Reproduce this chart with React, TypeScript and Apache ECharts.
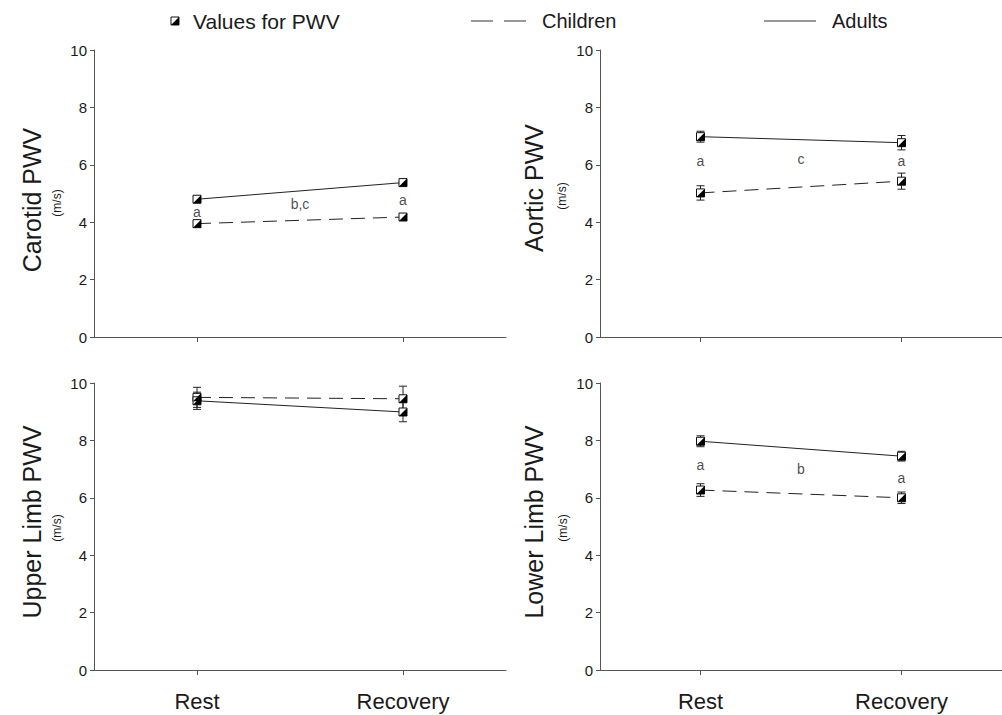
import React, { useEffect, useRef } from "react";
import * as echarts from "echarts";

// ---- data ----
const phases = ["Rest", "Recovery"];
const panelTitles = ["Carotid PWV", "Aortic PWV", "Upper Limb PWV", "Lower Limb PWV"];
const unitLabel = "(m/s)";
const legendLabels = ["Values for PWV", "Children", "Adults"];

const carotidChildren = [3.95, 4.18];
const carotidChildrenErr = [0.06, 0.06];
const carotidAdults = [4.8, 5.38];
const carotidAdultsErr = [0.05, 0.06];

const aorticChildren = [5.02, 5.43];
const aorticChildrenErr = [0.25, 0.28];
const aorticAdults = [6.98, 6.77];
const aorticAdultsErr = [0.19, 0.25];

const upperChildren = [9.5, 9.45];
const upperChildrenErr = [0.35, 0.44];
const upperAdults = [9.38, 8.99];
const upperAdultsErr = [0.3, 0.34];

const lowerChildren = [6.27, 6.0];
const lowerChildrenErr = [0.22, 0.2];
const lowerAdults = [7.97, 7.45];
const lowerAdultsErr = [0.19, 0.17];

// annotations: position 0 = Rest, 0.5 = between, 1 = Recovery
const carotidNotes = [
  { at: 0, y: 4.36, text: "a" },
  { at: 0.5, y: 4.63, text: "b,c" },
  { at: 1, y: 4.77, text: "a" },
];
const aorticNotes = [
  { at: 0, y: 6.13, text: "a" },
  { at: 0.5, y: 6.2, text: "c" },
  { at: 1, y: 6.13, text: "a" },
];
const upperNotes: { at: number; y: number; text: string }[] = [];
const lowerNotes = [
  { at: 0, y: 7.14, text: "a" },
  { at: 0.5, y: 7.0, text: "b" },
  { at: 1, y: 6.69, text: "a" },
];

const panels = [
  { children: carotidChildren, childrenErr: carotidChildrenErr, adults: carotidAdults, adultsErr: carotidAdultsErr, notes: carotidNotes },
  { children: aorticChildren, childrenErr: aorticChildrenErr, adults: aorticAdults, adultsErr: aorticAdultsErr, notes: aorticNotes },
  { children: upperChildren, childrenErr: upperChildrenErr, adults: upperAdults, adultsErr: upperAdultsErr, notes: upperNotes },
  { children: lowerChildren, childrenErr: lowerChildrenErr, adults: lowerAdults, adultsErr: lowerAdultsErr, notes: lowerNotes },
];

// ---- layout ----
const FONT = "Liberation Sans, Arial, Helvetica, sans-serif";
const INK = "#1a1a1a";
const AXIS = "#555";
const grids = [
  { left: 94, top: 50, width: 412, height: 287 },
  { left: 600, top: 50, width: 412, height: 287 },
  { left: 94, top: 383, width: 412, height: 287 },
  { left: 600, top: 383, width: 412, height: 287 },
];
const titlePos = [
  { tx: 32, ty: 200, ux: 57, uy: 203 },
  { tx: 534, ty: 188, ux: 562, uy: 196 },
  { tx: 32, ty: 522, ux: 57, uy: 528 },
  { tx: 534, ty: 522, ux: 563, uy: 528 },
];

const phaseX = (i: number) => 2 * i + 1; // Rest -> 1, Recovery -> 3 on a 0..4 axis
const noteX = (at: number) => 1 + at * 2;

const MARK = "path://M8,0 L8,8 L0,8 Z";

function buildOption() {
  const xAxis: any[] = [];
  const yAxis: any[] = [];
  const series: any[] = [];
  const graphic: any[] = [];

  panels.forEach((p, k) => {
    const bottom = k >= 2;
    xAxis.push({
      gridIndex: k,
      type: "value",
      min: 0,
      max: 4,
      splitLine: { show: false },
      axisLine: { show: true, onZero: false, lineStyle: { color: AXIS, width: 1 } },
      axisTick: { show: true, customValues: [1, 3], length: 5, lineStyle: { color: AXIS } },
      axisLabel: {
        show: bottom,
        customValues: [1, 3],
        formatter: (v: number) => phases[Math.round((v - 1) / 2)] ?? "",
        fontSize: 22,
        fontFamily: FONT,
        color: INK,
        margin: 20,
      },
    });
    yAxis.push({
      gridIndex: k,
      type: "value",
      min: 0,
      max: 10,
      interval: 2,
      splitLine: { show: false },
      axisLine: { show: true, lineStyle: { color: AXIS, width: 1 } },
      axisTick: { show: true, length: 4, lineStyle: { color: AXIS } },
      axisLabel: { fontSize: 15, fontFamily: FONT, color: INK, margin: 7 },
    });

    const childPts = p.children.map((v, i) => [phaseX(i), v]);
    const adultPts = p.adults.map((v, i) => [phaseX(i), v]);

    series.push({
      type: "line",
      xAxisIndex: k,
      yAxisIndex: k,
      data: childPts,
      symbol: "none",
      lineStyle: { color: "#222", width: 1, type: [14, 8] },
      z: 2,
    });
    series.push({
      type: "line",
      xAxisIndex: k,
      yAxisIndex: k,
      data: adultPts,
      symbol: "none",
      lineStyle: { color: "#222", width: 1, type: "solid" },
      z: 2,
    });

    const errData = [
      ...p.children.map((v, i) => [phaseX(i), v - p.childrenErr[i], v + p.childrenErr[i]]),
      ...p.adults.map((v, i) => [phaseX(i), v - p.adultsErr[i], v + p.adultsErr[i]]),
    ];
    series.push({
      type: "custom",
      xAxisIndex: k,
      yAxisIndex: k,
      data: errData,
      encode: { x: 0, y: [1, 2] },
      z: 3,
      renderItem: (params: any, api: any) => {
        const x = api.value(0);
        const lo = api.coord([x, api.value(1)]);
        const hi = api.coord([x, api.value(2)]);
        const w = 4;
        const style = { stroke: "#222", lineWidth: 1, fill: "none" };
        return {
          type: "group",
          children: [
            { type: "line", shape: { x1: lo[0], y1: lo[1], x2: hi[0], y2: hi[1] }, style },
            { type: "line", shape: { x1: lo[0] - w, y1: lo[1], x2: lo[0] + w, y2: lo[1] }, style },
            { type: "line", shape: { x1: hi[0] - w, y1: hi[1], x2: hi[0] + w, y2: hi[1] }, style },
          ],
        };
      },
    });

    const allPts = [...childPts, ...adultPts];
    series.push({
      type: "scatter",
      xAxisIndex: k,
      yAxisIndex: k,
      data: allPts,
      symbol: "rect",
      symbolSize: 8,
      itemStyle: { color: "#fff", borderColor: "#111", borderWidth: 1, opacity: 1 },
      z: 4,
    });
    series.push({
      type: "scatter",
      xAxisIndex: k,
      yAxisIndex: k,
      data: allPts,
      symbol: MARK,
      symbolSize: 8,
      itemStyle: { color: "#000", opacity: 1 },
      z: 5,
    });

    if (p.notes.length) {
      series.push({
        type: "scatter",
        xAxisIndex: k,
        yAxisIndex: k,
        data: p.notes.map((n) => ({ value: [noteX(n.at), n.y], name: n.text })),
        symbolSize: 1,
        itemStyle: { color: "rgba(0,0,0,0)" },
        label: {
          show: true,
          position: "inside",
          formatter: "{b}",
          fontSize: 14,
          fontFamily: FONT,
          color: INK,
        },
        z: 6,
      });
    }

    const tp = titlePos[k];
    graphic.push({
      type: "text",
      x: tp.tx,
      y: tp.ty,
      rotation: Math.PI / 2,
      style: {
        text: panelTitles[k],
        fontSize: 25,
        fontFamily: FONT,
        fill: INK,
        textAlign: "center",
        verticalAlign: "middle",
      },
    });
    graphic.push({
      type: "text",
      x: tp.ux,
      y: tp.uy,
      rotation: Math.PI / 2,
      style: {
        text: unitLabel,
        fontSize: 12,
        fontFamily: FONT,
        fill: INK,
        textAlign: "center",
        verticalAlign: "middle",
      },
    });
  });

  // legend
  const ly = 21;
  graphic.push({
    type: "rect",
    shape: { x: 171, y: ly - 4, width: 8, height: 8 },
    style: { fill: "#fff", stroke: "#111", lineWidth: 1 },
  });
  graphic.push({
    type: "polygon",
    shape: { points: [[179, ly - 4], [179, ly + 4], [171, ly + 4]] },
    style: { fill: "#000" },
  });
  graphic.push({
    type: "text",
    x: 193,
    y: ly,
    style: { text: legendLabels[0], fontSize: 21, fontFamily: FONT, fill: INK, verticalAlign: "middle" },
  });
  graphic.push({
    type: "line",
    shape: { x1: 471, y1: ly, x2: 526, y2: ly },
    style: { stroke: "#333", lineWidth: 1, lineDash: [22, 11] },
  });
  graphic.push({
    type: "text",
    x: 542,
    y: ly,
    style: { text: legendLabels[1], fontSize: 20, fontFamily: FONT, fill: INK, verticalAlign: "middle" },
  });
  graphic.push({
    type: "line",
    shape: { x1: 764, y1: ly, x2: 816, y2: ly },
    style: { stroke: "#333", lineWidth: 1 },
  });
  graphic.push({
    type: "text",
    x: 832,
    y: ly,
    style: { text: legendLabels[2], fontSize: 20, fontFamily: FONT, fill: INK, verticalAlign: "middle" },
  });

  return {
    animation: false,
    backgroundColor: "#fff",
    textStyle: { fontFamily: FONT },
    grid: grids.map((g) => ({ ...g, containLabel: false })),
    xAxis,
    yAxis,
    series,
    graphic,
  };
}

export default function App() {
  const ref = useRef<HTMLDivElement>(null);
  useEffect(() => {
    if (!ref.current) return;
    const chart = echarts.init(ref.current, undefined, { renderer: "svg" });
    chart.setOption(buildOption() as any);
    return () => chart.dispose();
  }, []);
  return (
    <div
      ref={ref}
      style={{ position: "absolute", left: 0, top: 0, width: 1002, height: 715, background: "#fff" }}
    />
  );
}
